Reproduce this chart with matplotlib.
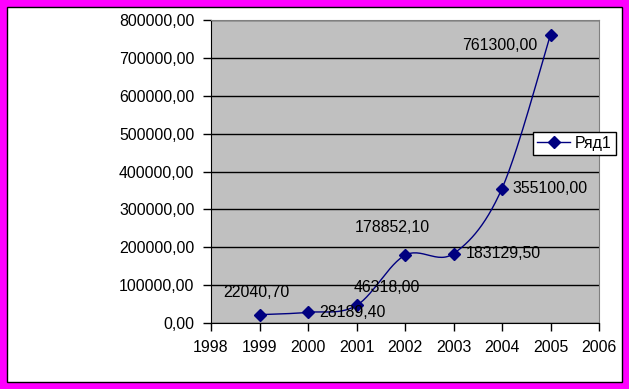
import matplotlib.pyplot as plt
from matplotlib.patches import Rectangle
import numpy as np

plt.rcParams['font.family'] = ['Liberation Sans', 'DejaVu Sans']

# Daten
years = [1999, 2000, 2001, 2002, 2003, 2004, 2005]
values = [22040.70, 28189.40, 46318.00, 178852.10, 183129.50, 355100.00, 761300.00]
series_name = "Ряд1"

# Label-Versatz in Pixeln (dx, dy, ha)
label_offsets = [(-3, 22, 'center'), (11, 0, 'left'), (30, 18, 'center'),
                 (-13, 28, 'center'), (12, 0, 'left'), (10, 0, 'left'),
                 (-13, -11, 'right')]

W, H = 629, 389
fig = plt.figure(figsize=(W / 100, H / 100), dpi=100)
fig.patch.set_facecolor('#FF00FF')
fig.patches.append(Rectangle((7 / W, 1 - 382 / H), 615 / W, 375 / H,
                             transform=fig.transFigure, facecolor='white',
                             edgecolor='black', linewidth=1, zorder=-10))

ax = fig.add_axes([211 / W, 1 - 323 / H, 388 / W, 303 / H])
ax.set_facecolor('#C0C0C0')
ax.set_xlim(1998, 2006)
ax.set_ylim(0, 800000)
ax.set_xticks(range(1998, 2007))
ax.set_yticks(range(0, 800001, 100000))
ax.set_yticklabels([f"{v:.2f}".replace('.', ',') for v in range(0, 800001, 100000)])
ax.tick_params(direction='out', length=6, width=1, labelsize=11.4, color='black', pad=6)
ax.grid(axis='y', color='black', linewidth=1)
ax.set_axisbelow(True)
for s in ['top', 'right']:
    ax.spines[s].set_color('#808080')
for s in ['left', 'bottom']:
    ax.spines[s].set_color('black')

# geglättete Linie (Catmull-Rom, in Pixelmaßstab)
px = (np.array(years) - 1998) / 8 * 388
py = np.array(values) / 800000 * 303
pts = np.column_stack([px, py])
ext = np.vstack([pts[0], pts, pts[-1]])
curve = []
for i in range(1, len(ext) - 2):
    p0, p1, p2, p3 = ext[i - 1], ext[i], ext[i + 1], ext[i + 2]
    for t in np.linspace(0, 1, 30):
        c = 0.5 * ((2 * p1) + (-p0 + p2) * t + (2 * p0 - 5 * p1 + 4 * p2 - p3) * t ** 2
                   + (-p0 + 3 * p1 - 3 * p2 + p3) * t ** 3)
        curve.append(c)
curve = np.array(curve)
ax.plot(curve[:, 0] / 388 * 8 + 1998, curve[:, 1] / 303 * 800000,
        color='#000080', linewidth=1, zorder=3)
ax.plot(years, values, linestyle='none', marker='D', markersize=6,
        color='#000080', zorder=4)

for x, y, (dx, dy, ha) in zip(years, values, label_offsets):
    ax.annotate(f"{y:.2f}".replace('.', ','), (x, y), xytext=(dx, dy),
                textcoords='offset pixels', ha=ha, va='center', fontsize=11.4,
                color='black', zorder=5)

# Legende
handle, = ax.plot([], [], color='#000080', linewidth=1, marker='D', markersize=6)
leg = fig.legend([handle], [series_name], loc='upper left',
                 bbox_to_anchor=(533 / W, 1 - 132 / H), borderaxespad=0,
                 fancybox=False, framealpha=1, edgecolor='black',
                 fontsize=11.4, handlelength=2.1, borderpad=0.25,
                 handletextpad=0.3)
leg.get_frame().set_linewidth(1)

fig.savefig('out.png', dpi=100)
